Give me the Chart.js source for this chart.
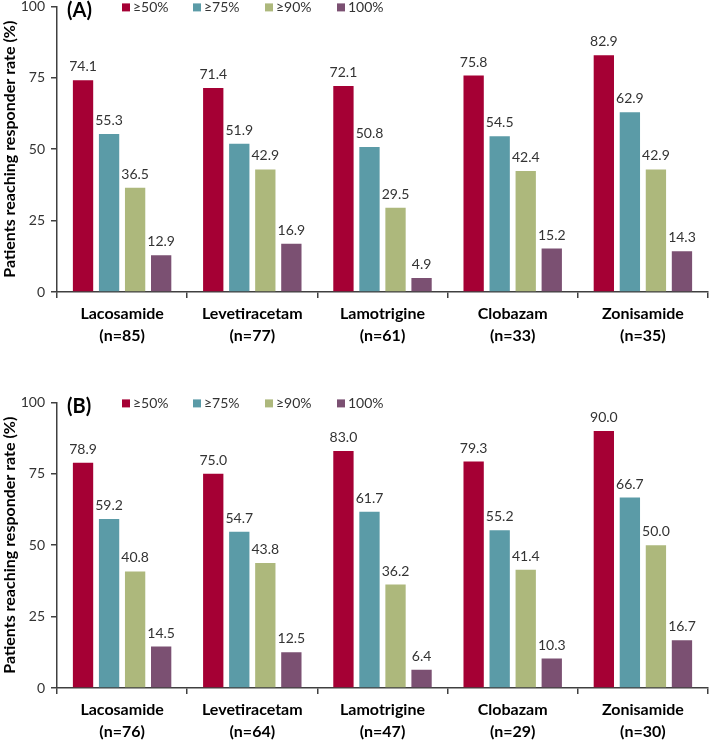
<!DOCTYPE html>
<html lang="en">
  <head>
    <meta charset="UTF-8" />
    <title>Responder rates</title>
    <style>
      html, body { margin: 0; padding: 0; background: #fff; overflow: hidden; }
      body { width: 709px; height: 740px; position: relative; }
      .panel { position: absolute; left: 0; width: 709px; height: 360px; }
      #panel-a { top: -8px; }
      #panel-b { top: 388px; }
    </style>
  </head>
  <body>
    <div class="panel" id="panel-a"><canvas id="chart-a"></canvas></div>
    <div class="panel" id="panel-b"><canvas id="chart-b"></canvas></div>

    <script src="https://cdn.jsdelivr.net/npm/chart.js"></script>
    <script>
      // data
      const drugs = ["Lacosamide", "Levetiracetam", "Lamotrigine", "Clobazam", "Zonisamide"];
      const nA = [85, 77, 61, 33, 35];
      const nB = [76, 64, 47, 29, 30];
      const seriesNames = ["≥50%", "≥75%", "≥90%", "100%"];
      const seriesColors = ["#A50034", "#5B9BA7", "#ADB87C", "#7B5072"];

      const a50 = [74.1, 71.4, 72.1, 75.8, 82.9];
      const a75 = [55.3, 51.9, 50.8, 54.5, 62.9];
      const a90 = [36.5, 42.9, 29.5, 42.4, 42.9];
      const a100 = [12.9, 16.9, 4.9, 15.2, 14.3];

      const b50 = [78.9, 75.0, 83.0, 79.3, 90.0];
      const b75 = [59.2, 54.7, 61.7, 55.2, 66.7];
      const b90 = [40.8, 43.8, 36.2, 41.4, 50.0];
      const b100 = [14.5, 12.5, 6.4, 10.3, 16.7];

      const yTicks = [0, 25, 50, 75, 100];

      const FONT = "Lato, 'Liberation Sans', Arial, sans-serif";
      const TEXT = "#333333";
      const AXIS = "#404040";

      // labels above bars, legend and panel letter
      const extras = {
        id: "extras",
        afterDatasetsDraw(chart, args, opts) {
          const ctx = chart.ctx;
          const area = chart.chartArea;
          ctx.save();
          ctx.fillStyle = TEXT;
          ctx.font = "14px " + FONT;
          ctx.textAlign = "center";
          ctx.textBaseline = "alphabetic";
          chart.data.datasets.forEach((ds, i) => {
            chart.getDatasetMeta(i).data.forEach((bar, j) => {
              ctx.fillText(ds.data[j].toFixed(1), bar.x, bar.y - 9);
            });
          });

          // panel letter
          ctx.font = "bold 20px " + FONT;
          ctx.textAlign = "left";
          ctx.textBaseline = "middle";
          ctx.fillStyle = "#000";
          ctx.fillText(opts.letter, 67, area.top + 4);

          // legend
          ctx.font = "14px " + FONT;
          const xs = [122, 193, 265, 337];
          chart.data.datasets.forEach((ds, i) => {
            ctx.fillStyle = ds.backgroundColor;
            ctx.fillRect(xs[i], area.top - 3, 8, 8);
            ctx.fillStyle = TEXT;
            ctx.fillText(ds.label, xs[i] + 11, area.top + 1);
          });
          ctx.restore();
        },
      };

      function makeChart(id, letter, ns, values) {
        return new Chart(document.getElementById(id), {
          type: "bar",
          data: {
            labels: drugs.map((d, i) => [d, "(n=" + ns[i] + ")"]),
            datasets: seriesNames.map((name, i) => ({
              label: name,
              data: values[i],
              backgroundColor: seriesColors[i],
              categoryPercentage: 0.8,
              barPercentage: 0.78,
            })),
          },
          options: {
            responsive: true,
            maintainAspectRatio: false,
            animation: false,
            layout: { padding: { top: 0, right: 1, left: 0, bottom: 0 } },
            plugins: {
              legend: { display: false },
              tooltip: { enabled: false },
              extras: { letter: letter },
            },
            scales: {
              x: {
                afterFit: (s) => { s.height = 60; },
                border: { display: true, color: AXIS, width: 1.5 },
                grid: {
                  display: true,
                  offset: true,
                  drawOnChartArea: false,
                  drawTicks: true,
                  tickLength: 6,
                  color: AXIS,
                  lineWidth: 1.5,
                },
                ticks: {
                  color: "#000",
                  font: { family: FONT, size: 16, weight: "bold", lineHeight: 1.35 },
                  padding: 5,
                  maxRotation: 0,
                },
              },
              y: {
                min: 0,
                max: 100,
                afterFit: (s) => { s.width = 57; },
                afterBuildTicks: (s) => { s.ticks = yTicks.map((v) => ({ value: v })); },
                border: { display: true, color: AXIS, width: 1.5 },
                grid: {
                  display: true,
                  drawOnChartArea: false,
                  drawTicks: true,
                  tickLength: 6,
                  color: AXIS,
                  lineWidth: 1.5,
                },
                ticks: {
                  color: TEXT,
                  font: { family: FONT, size: 14 },
                  padding: 6,
                },
                title: {
                  display: true,
                  text: "Patients reaching responder rate (%)",
                  color: "#000",
                  font: { family: FONT, size: 16, weight: "bold" },
                  padding: { top: 0, bottom: 0 },
                },
              },
            },
          },
          plugins: [extras],
        });
      }

      makeChart("chart-a", "(A)", nA, [a50, a75, a90, a100]);
      makeChart("chart-b", "(B)", nB, [b50, b75, b90, b100]);
    </script>
  </body>
</html>
